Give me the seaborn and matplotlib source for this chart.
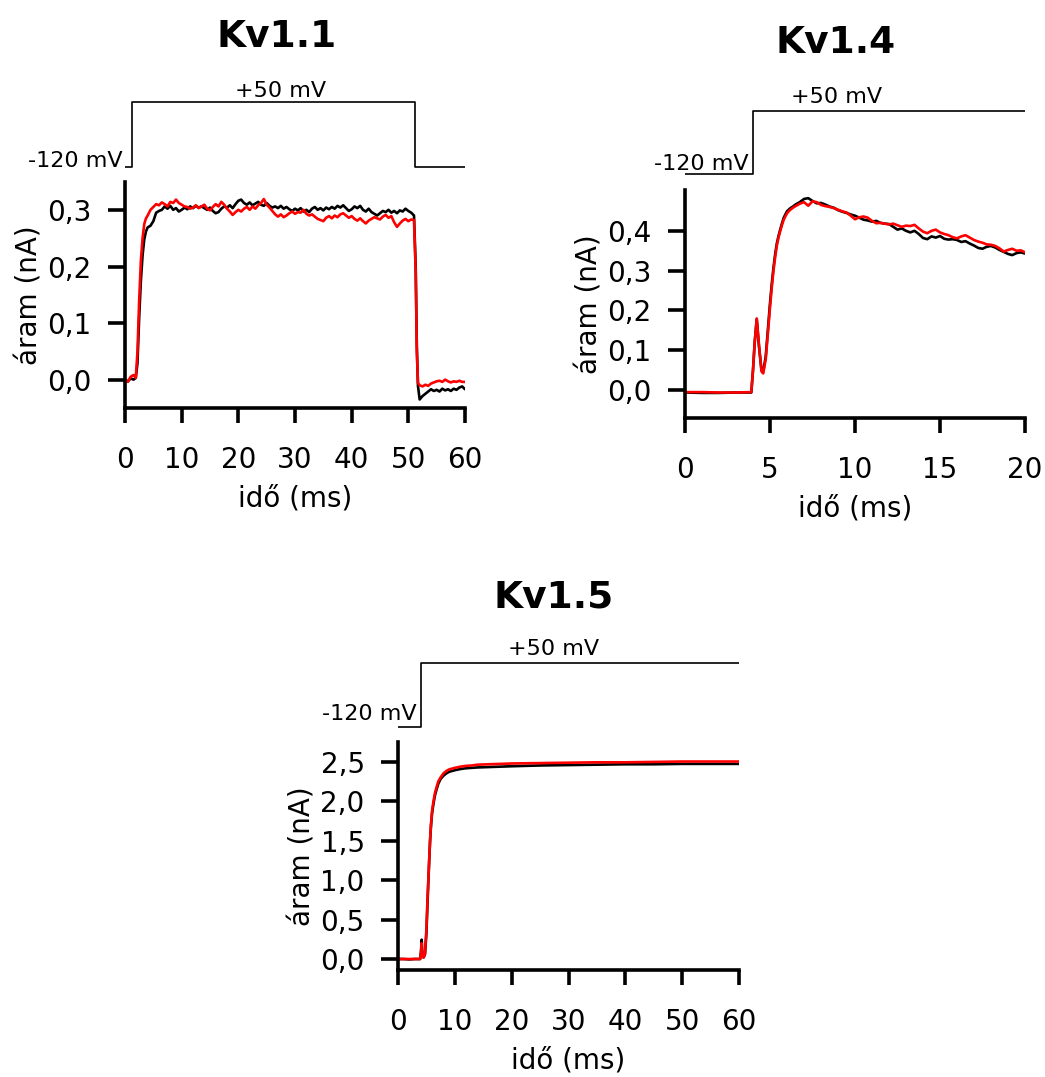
import numpy as np
import pandas as pd
import matplotlib
matplotlib.use("Agg")
import matplotlib.pyplot as plt
import seaborn as sns

# ---------------- data ----------------
# Kv1.1 current traces (nA) vs time (ms)
kv11_time = [0.0, 0.5, 1.0, 1.5, 1.9, 2.2, 2.5, 2.8, 3.1, 3.4, 3.7, 4.0, 4.5, 5.0,
             5.5, 6.0, 6.5, 7.0, 7.5, 8.0, 8.5, 9.0, 9.5, 10.0,
             10.5, 11.0, 11.5, 12.0, 12.5, 13.0, 13.5, 14.0, 14.5, 15.0,
             15.5, 16.0, 16.5, 17.0, 17.5, 18.0, 18.5, 19.0, 19.5, 20.0,
             20.5, 21.0, 21.5, 22.0, 22.5, 23.0, 23.5, 24.0, 24.5, 25.0,
             25.5, 26.0, 26.5, 27.0, 27.5, 28.0, 28.5, 29.0, 29.5, 30.0,
             30.5, 31.0, 31.5, 32.0, 32.5, 33.0, 33.5, 34.0, 34.5, 35.0,
             35.5, 36.0, 36.5, 37.0, 37.5, 38.0, 38.5, 39.0, 39.5, 40.0,
             40.5, 41.0, 41.5, 42.0, 42.5, 43.0, 43.5, 44.0, 44.5, 45.0,
             45.5, 46.0, 46.5, 47.0, 47.5, 48.0, 48.5, 49.0, 49.5, 50.0,
             50.5, 51.0,
             51.3, 51.5, 51.7, 52.0, 52.5, 53.0, 53.5, 54.0, 54.5, 55.0,
             55.5, 56.0, 56.5, 57.0, 57.5, 58.0, 58.5, 59.0, 59.5, 60.0]
kv11_black = [0.000, -0.002, 0.003, 0.001, 0.004, 0.030, 0.110, 0.175, 0.220, 0.248, 0.262, 0.269, 0.272, 0.280,
              0.295, 0.298, 0.300, 0.306, 0.302, 0.307, 0.300, 0.303, 0.297, 0.300,
              0.304, 0.301, 0.306, 0.303, 0.307, 0.304, 0.306, 0.303, 0.300, 0.304,
              0.298, 0.294, 0.296, 0.302, 0.306, 0.304, 0.308, 0.303, 0.310, 0.316,
              0.318, 0.312, 0.309, 0.313, 0.308, 0.311, 0.314, 0.309, 0.307, 0.312,
              0.307, 0.304, 0.306, 0.303, 0.307, 0.302, 0.305, 0.301, 0.298, 0.302,
              0.299, 0.303, 0.297, 0.300, 0.296, 0.302, 0.305, 0.300, 0.303, 0.299,
              0.304, 0.301, 0.305, 0.302, 0.307, 0.304, 0.308, 0.303, 0.298, 0.301,
              0.306, 0.303, 0.307, 0.300, 0.297, 0.302, 0.296, 0.293, 0.290, 0.294,
              0.298, 0.296, 0.300, 0.295, 0.298, 0.294, 0.299, 0.297, 0.302, 0.298,
              0.295, 0.290,
              0.200, 0.060, -0.010, -0.034, -0.028, -0.024, -0.020, -0.016, -0.019, -0.017,
              -0.020, -0.015, -0.018, -0.016, -0.019, -0.015, -0.017, -0.013, -0.011, -0.016]
kv11_red = [0.002, -0.003, 0.006, 0.009, 0.004, 0.050, 0.140, 0.210, 0.250, 0.275, 0.285, 0.290, 0.300, 0.305,
            0.310, 0.308, 0.313, 0.310, 0.306, 0.314, 0.312, 0.318, 0.312, 0.309,
            0.306, 0.305, 0.302, 0.304, 0.308, 0.303, 0.306, 0.309, 0.302, 0.299,
            0.305, 0.310, 0.306, 0.314, 0.309, 0.302, 0.297, 0.291, 0.296, 0.300,
            0.297, 0.302, 0.305, 0.300, 0.306, 0.302, 0.308, 0.312, 0.319, 0.309,
            0.304, 0.298, 0.292, 0.288, 0.292, 0.287, 0.290, 0.294, 0.297, 0.293,
            0.296, 0.295, 0.300, 0.293, 0.290, 0.292, 0.288, 0.284, 0.282, 0.280,
            0.286, 0.289, 0.285, 0.290, 0.287, 0.292, 0.294, 0.290, 0.286, 0.289,
            0.284, 0.281, 0.285, 0.280, 0.276, 0.281, 0.284, 0.287, 0.285, 0.283,
            0.288, 0.291, 0.286, 0.289, 0.278, 0.270, 0.276, 0.281, 0.284, 0.280,
            0.283, 0.282,
            0.190, 0.050, -0.005, -0.009, -0.011, -0.008, -0.010, -0.006, -0.004, -0.002,
            -0.001, -0.003, 0.001, -0.002, -0.004, -0.002, -0.003, -0.001, -0.003, -0.003]

# Kv1.4 current traces
kv14_time = [0.0, 1.0, 2.0, 3.0, 3.9,
             4.0, 4.1, 4.22, 4.35, 4.5, 4.6, 4.75, 4.9, 5.0, 5.1, 5.2, 5.3, 5.4, 5.5,
             5.6, 5.7, 5.8, 5.9, 6.0, 6.1, 6.2, 6.35, 6.5,
             6.75, 7.0, 7.25, 7.5, 7.75, 8.0, 8.25, 8.5, 8.75, 9.0,
             9.25, 9.5, 9.75, 10.0, 10.25, 10.5, 10.75, 11.0, 11.25, 11.5,
             11.75, 12.0, 12.25, 12.5, 12.75, 13.0, 13.25, 13.5, 13.75, 14.0,
             14.25, 14.5, 14.75, 15.0, 15.25, 15.5, 15.75, 16.0, 16.25, 16.5,
             16.75, 17.0, 17.25, 17.5, 17.75, 18.0, 18.25, 18.5, 18.75, 19.0,
             19.25, 19.5, 19.75, 20.0]
kv14_black = [-0.006, -0.007, -0.007, -0.006, -0.006,
              0.050, 0.120, 0.178, 0.110, 0.050, 0.046, 0.085, 0.165, 0.218, 0.265, 0.306, 0.340, 0.368, 0.387,
              0.403, 0.418, 0.432, 0.441, 0.449, 0.453, 0.457, 0.461, 0.466,
              0.472, 0.480, 0.482, 0.475, 0.469, 0.470, 0.466, 0.461, 0.458, 0.452,
              0.448, 0.445, 0.441, 0.438, 0.433, 0.428, 0.426, 0.423, 0.425, 0.420,
              0.418, 0.417, 0.410, 0.403, 0.406, 0.400, 0.396, 0.400, 0.392, 0.382,
              0.379, 0.386, 0.383, 0.387, 0.380, 0.378, 0.379, 0.377, 0.372, 0.374,
              0.368, 0.363, 0.357, 0.355, 0.360, 0.362, 0.358, 0.352, 0.347, 0.342,
              0.339, 0.344, 0.346, 0.343]
kv14_red = [-0.005, -0.005, -0.006, -0.006, -0.005,
            0.050, 0.120, 0.180, 0.115, 0.047, 0.042, 0.078, 0.155, 0.208, 0.256, 0.298, 0.333, 0.362, 0.383,
            0.399, 0.414, 0.427, 0.436, 0.444, 0.449, 0.453, 0.458, 0.462,
            0.468, 0.472, 0.463, 0.474, 0.472, 0.465, 0.462, 0.460, 0.457, 0.453,
            0.449, 0.446, 0.438, 0.429, 0.434, 0.436, 0.433, 0.425, 0.419, 0.420,
            0.418, 0.416, 0.418, 0.414, 0.410, 0.413, 0.412, 0.415, 0.406, 0.398,
            0.394, 0.400, 0.403, 0.396, 0.392, 0.389, 0.384, 0.381, 0.386, 0.389,
            0.383, 0.377, 0.373, 0.370, 0.366, 0.365, 0.362, 0.356, 0.348, 0.352,
            0.355, 0.350, 0.351, 0.346]

# Kv1.5 current traces
kv15_time = [0.0, 1.0, 2.0, 3.0, 3.9, 4.05, 4.17, 4.3, 4.5, 4.75, 5.0, 5.2, 5.35, 5.5,
             5.65, 5.8, 6.0, 6.25, 6.5, 6.8, 7.1, 7.5, 8.0, 8.5, 9.0, 10.0, 11.0, 12.0,
             13.0, 14.0, 16.0, 18.0, 20.0, 25.0, 30.0, 35.0, 40.0, 45.0, 50.0, 55.0, 60.0]
kv15_black = [0.0, 0.0, -0.005, 0.0, 0.0, 0.10, 0.245, 0.03, 0.02, 0.06, 0.33, 0.72, 1.00, 1.26,
              1.50, 1.68, 1.85, 1.97, 2.07, 2.15, 2.22, 2.28, 2.32, 2.35, 2.37, 2.39, 2.405, 2.415,
              2.42, 2.425, 2.43, 2.435, 2.44, 2.45, 2.455, 2.46, 2.465, 2.465, 2.47, 2.47, 2.47]
kv15_red = [0.0, 0.0, 0.0, 0.0, 0.0, 0.08, 0.20, 0.03, 0.02, 0.07, 0.38, 0.78, 1.02, 1.28,
            1.52, 1.70, 1.88, 2.00, 2.10, 2.18, 2.25, 2.30, 2.35, 2.38, 2.40, 2.42, 2.435, 2.445,
            2.45, 2.46, 2.465, 2.47, 2.475, 2.48, 2.485, 2.49, 2.49, 2.495, 2.50, 2.50, 2.50]

# voltage protocols (mV)
kv11_v_time = [0.0, 1.2, 1.2, 51.2, 51.2, 60.0]
kv11_v = [-120, -120, 50, 50, -120, -120]
kv14_v_time = [0.0, 4.0, 4.0, 20.0]
kv14_v = [-120, -120, 50, 50]
kv15_v_time = [0.0, 4.0, 4.0, 60.0]
kv15_v = [-120, -120, 50, 50]

# ticks / labels
kv11_xticks = [0, 10, 20, 30, 40, 50, 60]
kv11_yticks = [0.0, 0.1, 0.2, 0.3]
kv11_ylabels = ["0,0", "0,1", "0,2", "0,3"]
kv14_xticks = [0, 5, 10, 15, 20]
kv14_yticks = [0.0, 0.1, 0.2, 0.3, 0.4]
kv14_ylabels = ["0,0", "0,1", "0,2", "0,3", "0,4"]
kv15_xticks = [0, 10, 20, 30, 40, 50, 60]
kv15_yticks = [0.0, 0.5, 1.0, 1.5, 2.0, 2.5]
kv15_ylabels = ["0,0", "0,5", "1,0", "1,5", "2,0", "2,5"]
titles = ["Kv1.1", "Kv1.4", "Kv1.5"]
xlabel = "idő (ms)"
ylabel = "áram (nA)"
v_hi_label = "+50 mV"
v_lo_label = "-120 mV"

# ---------------- style ----------------
sns.set_theme(style="ticks")
plt.rcParams['font.family'] = ['DejaVu Sans']

W, H = 1045, 1077
fig = plt.figure(figsize=(W / 100, H / 100), dpi=100)

TICK_FS = 20
LAB_FS = 20
V_FS = 16
TITLE_FS = 27


def px_axes(l, t, r, b):
    return fig.add_axes([l / W, 1 - b / H, (r - l) / W, (b - t) / H])


def current_panel(box, xlim, ylim, xticks, yticks, ylabels, time, black, red):
    assert len(time) == len(black) == len(red)
    ax = px_axes(*box)
    n = len(time)
    df = pd.DataFrame({"t": list(time) * 2,
                       "I": list(black) + list(red),
                       "trace": ["black"] * n + ["red"] * n})
    sns.lineplot(data=df, x="t", y="I", hue="trace",
                 palette={"black": "#000000", "red": "#ff0000"},
                 estimator=None, sort=False, lw=1.9, legend=False, ax=ax)
    ax.set_xlim(*xlim)
    ax.set_ylim(*ylim)
    ax.set_xticks(xticks)
    ax.set_xticklabels([str(x) for x in xticks])
    ax.set_yticks(yticks)
    ax.set_yticklabels(ylabels)
    sns.despine(ax=ax)
    for s in ["left", "bottom"]:
        ax.spines[s].set_linewidth(2.6)
        ax.spines[s].set_color("black")
    ax.tick_params(axis="x", length=11, width=2.6, pad=16, labelsize=TICK_FS,
                   colors="black", direction="out")
    ax.tick_params(axis="y", length=12, width=2.6, pad=12, labelsize=TICK_FS,
                   colors="black", direction="out")
    ax.set_xlabel(xlabel, fontsize=LAB_FS, color="black", labelpad=8)
    ax.set_ylabel(ylabel, fontsize=LAB_FS, color="black", labelpad=3)
    ax.set_facecolor("none")
    return ax


def voltage_panel(l, r, y_hi, y_lo, xlim, vt, vv, hi_t, hi_off, lo_t, lo_off):
    m = 12
    ax = px_axes(l, y_hi - m, r, y_lo + m)
    mpp = 170.0 / (y_lo - y_hi)
    sns.lineplot(x=vt, y=vv, estimator=None, sort=False, color="black", lw=1.2, ax=ax)
    ax.set_xlim(*xlim)
    ax.set_ylim(-120 - m * mpp, 50 + m * mpp)
    ax.axis("off")
    ax.annotate(v_hi_label, xy=(hi_t, 50), xytext=(0, hi_off), textcoords="offset points",
                ha="center", va="baseline", fontsize=V_FS, color="black")
    ax.annotate(v_lo_label, xy=(lo_t, -120), xytext=lo_off, textcoords="offset points",
                ha="right", va="baseline", fontsize=V_FS, color="black")
    return ax


# Kv1.1
current_panel((125, 182, 465, 408), (0, 60), (-0.049, 0.349), kv11_xticks, kv11_yticks,
              kv11_ylabels, kv11_time, kv11_black, kv11_red)
voltage_panel(125, 465, 102, 167, (0, 60), kv11_v_time, kv11_v,
              27.4, 3.6, 0.0, (-1.5, 0))

# Kv1.4
current_panel((685, 190, 1025, 418), (0, 20), (-0.070, 0.5025), kv14_xticks, kv14_yticks,
              kv14_ylabels, kv14_time, kv14_black, kv14_red)
voltage_panel(685, 1025, 110.7, 174, (0, 20), kv14_v_time, kv14_v,
              8.9, 5.8, 4.0, (-3.5, 3))

# Kv1.5
current_panel((398, 742, 739, 970), (0, 60), (-0.139, 2.747), kv15_xticks, kv15_yticks,
              kv15_ylabels, kv15_time, kv15_black, kv15_red)
voltage_panel(398, 739, 663, 727, (0, 60), kv15_v_time, kv15_v,
              27.45, 5.8, 4.0, (-3, 5))

# titles
for txt, (x, y) in zip(titles, [(277, 47), (836, 53), (554, 607)]):
    fig.text(x / W, 1 - y / H, txt, ha="center", va="baseline",
             fontsize=TITLE_FS, fontweight="bold", color="black")

fig.savefig("out.png", dpi=100, facecolor="white")
